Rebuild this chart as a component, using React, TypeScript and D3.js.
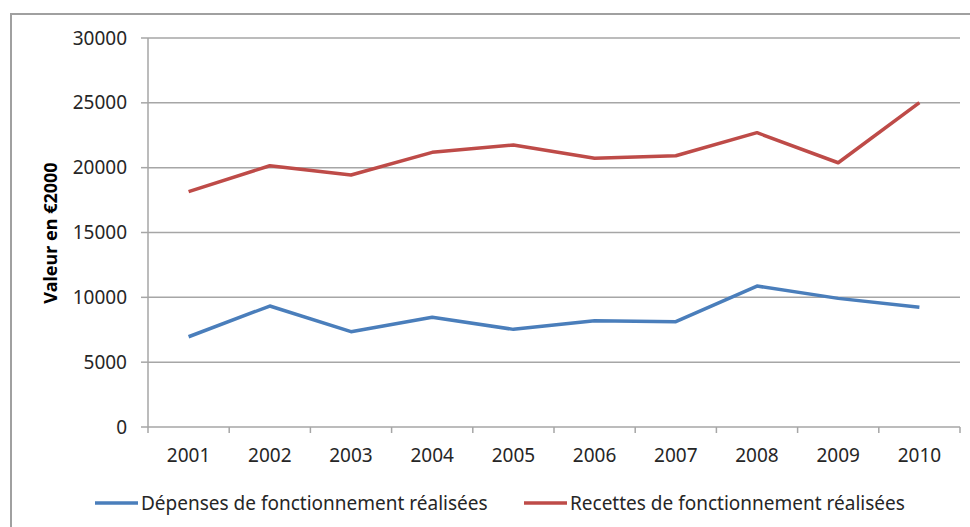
import * as d3 from 'd3'

// ── data ────────────────────────────────────────────────────────────────────
const YEARS    = ['2001', '2002', '2003', '2004', '2005', '2006', '2007', '2008', '2009', '2010']
const DEPENSES = [6960, 9330, 7350, 8460, 7530, 8200, 8120, 10870, 9920, 9230]
const RECETTES = [18150, 20150, 19430, 21180, 21750, 20720, 20920, 22700, 20380, 25010]
const Y_TICKS  = [0, 5000, 10000, 15000, 20000, 25000, 30000]
const SERIES   = [
  { name: 'Dépenses de fonctionnement réalisées', values: DEPENSES, color: '#4a7ebb' },
  { name: 'Recettes de fonctionnement réalisées', values: RECETTES, color: '#be4b48' },
]

// ── layout ──────────────────────────────────────────────────────────────────
const W = 970
const H = 527
const PL = 148, PR = 960, PT = 38, PB = 427
const FONT = '"Noto Sans", "Open Sans", sans-serif'
const C_GRID = '#a6a6a6'
const C_TXT  = '#262626'

export default function App() {
  const x = d3.scaleBand<string>().domain(YEARS).range([PL, PR])
  const y = d3.scaleLinear().domain([0, 30000]).range([PB, PT])
  const cx = (d: string) => (x(d) ?? 0) + x.bandwidth() / 2

  const line = d3.line<number>()
    .x((_, i) => cx(YEARS[i]))
    .y(v => y(v))

  const xTicks = [...YEARS.map(d => x(d) ?? 0), PR]

  return (
    <svg width={W} height={H} style={{ position: 'absolute', left: 0, top: 0, background: '#fff' }}
      fontFamily={FONT}>
      <rect x={11} y={14} width={W + 20} height={H + 20} fill="none" stroke="#a0a0a0" strokeWidth={2} />

      {/* grid + y ticks */}
      {Y_TICKS.map(t => (
        <g key={t}>
          {t > 0 && <line x1={PL} x2={PR} y1={y(t)} y2={y(t)} stroke={C_GRID} strokeWidth={1.5} />}
          <line x1={PL - 7} x2={PL} y1={y(t)} y2={y(t)} stroke={C_GRID} strokeWidth={1.5} />
          <text x={127} y={y(t)} dy="0.35em" textAnchor="end" fontSize={19} fill={C_TXT}>{t}</text>
        </g>
      ))}

      {/* axes */}
      <line x1={PL} x2={PL} y1={PT} y2={PB} stroke={C_GRID} strokeWidth={1.5} />
      <line x1={PL} x2={PR} y1={PB} y2={PB} stroke={C_GRID} strokeWidth={1.5} />
      {xTicks.map((t, i) => (
        <line key={i} x1={t} x2={t} y1={PB} y2={PB + 6} stroke={C_GRID} strokeWidth={1.5} />
      ))}
      {YEARS.map(d => (
        <text key={d} x={cx(d)} y={462} textAnchor="middle" fontSize={19} fill={C_TXT}>{d}</text>
      ))}

      {/* y title */}
      <text transform={`translate(57,233) rotate(-90)`} textAnchor="middle" fontSize={18}
        fontWeight="bold" fill="#000">Valeur en €2000</text>

      {/* series */}
      {SERIES.map(s => (
        <path key={s.name} d={line(s.values) ?? ''} fill="none" stroke={s.color}
          strokeWidth={3.5} strokeLinejoin="round" />
      ))}

      {/* legend */}
      {SERIES.map((s, i) => {
        const lx = i === 0 ? 95 : 524
        return (
          <g key={s.name}>
            <line x1={lx} x2={lx + 43} y1={503} y2={503} stroke={s.color} strokeWidth={3.5} />
            <text x={lx + 46} y={503} dy="0.35em" fontSize={19} fill={C_TXT}>{s.name}</text>
          </g>
        )
      })}
    </svg>
  )
}
